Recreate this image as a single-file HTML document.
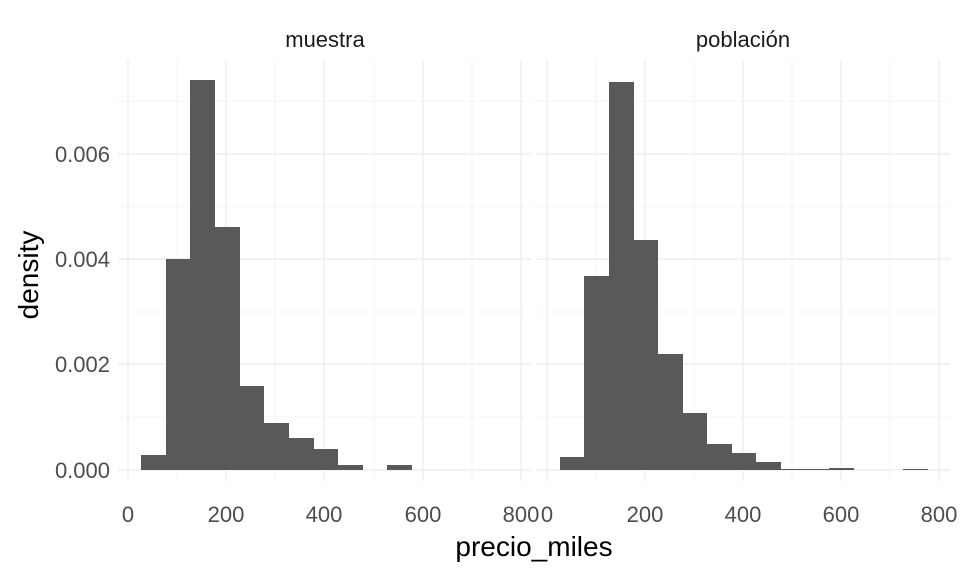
<!DOCTYPE html><html><head><style>body{margin:0;background:#fff}</style></head><body>
<svg width="960" height="576" xmlns="http://www.w3.org/2000/svg" font-family="Liberation Sans, sans-serif">
<g id="grid" stroke="#ebebeb">
<g stroke-width="0.6">
<line x1="118" x2="531" y1="417" y2="417"/><line x1="118" x2="531" y1="312" y2="312"/><line x1="118" x2="531" y1="206" y2="206"/><line x1="118" x2="531" y1="101" y2="101"/>
<line x1="177" x2="177" y1="60" y2="481"/><line x1="275" x2="275" y1="60" y2="481"/><line x1="374" x2="374" y1="60" y2="481"/><line x1="472" x2="472" y1="60" y2="481"/>
<line x1="537" x2="950" y1="417" y2="417"/><line x1="537" x2="950" y1="312" y2="312"/><line x1="537" x2="950" y1="206" y2="206"/><line x1="537" x2="950" y1="101" y2="101"/>
<line x1="596" x2="596" y1="60" y2="481"/><line x1="694" x2="694" y1="60" y2="481"/><line x1="792" x2="792" y1="60" y2="481"/><line x1="890" x2="890" y1="60" y2="481"/>
</g>
<g stroke-width="1.2">
<line x1="118" x2="531" y1="470" y2="470"/><line x1="118" x2="531" y1="364" y2="364"/><line x1="118" x2="531" y1="259" y2="259"/><line x1="118" x2="531" y1="154" y2="154"/>
<line x1="128" x2="128" y1="60" y2="481"/><line x1="226" x2="226" y1="60" y2="481"/><line x1="324" x2="324" y1="60" y2="481"/><line x1="423" x2="423" y1="60" y2="481"/><line x1="521" x2="521" y1="60" y2="481"/>
<line x1="537" x2="950" y1="470" y2="470"/><line x1="537" x2="950" y1="364" y2="364"/><line x1="537" x2="950" y1="259" y2="259"/><line x1="537" x2="950" y1="154" y2="154"/>
<line x1="547" x2="547" y1="60" y2="481"/><line x1="645" x2="645" y1="60" y2="481"/><line x1="743" x2="743" y1="60" y2="481"/><line x1="841" x2="841" y1="60" y2="481"/><line x1="939" x2="939" y1="60" y2="481"/>
</g></g>
<g fill="#595959">
<rect x="141" y="455" width="25" height="15"/><rect x="166" y="259" width="25" height="211"/><rect x="190" y="80" width="25" height="390"/><rect x="215" y="227" width="25" height="243"/><rect x="239" y="386" width="25" height="84"/><rect x="264" y="423" width="25" height="47"/><rect x="289" y="438" width="25" height="32"/><rect x="313" y="449" width="25" height="21"/><rect x="338" y="465" width="25" height="5"/><rect x="387" y="465" width="25" height="5"/>
<rect x="560" y="457" width="25" height="13"/><rect x="584" y="276" width="25" height="194"/><rect x="609" y="82" width="25" height="388"/><rect x="633" y="240" width="25" height="230"/><rect x="658" y="354" width="25" height="116"/><rect x="682" y="413" width="25" height="57"/><rect x="707" y="444" width="25" height="26"/><rect x="731" y="453" width="25" height="17"/><rect x="756" y="462" width="25" height="8"/><rect x="780" y="469" width="25" height="1"/><rect x="805" y="469" width="25" height="1"/><rect x="829" y="468" width="25" height="2"/><rect x="903" y="469" width="25" height="1"/>
</g>
<g font-size="22" fill="#1a1a1a" text-anchor="middle"><text x="325" y="47">muestra</text><text x="743" y="47">población</text></g>
<g font-size="22" fill="#4d4d4d" text-anchor="end"><text x="110" y="478">0.000</text><text x="110" y="372">0.002</text><text x="110" y="267">0.004</text><text x="110" y="162">0.006</text></g>
<g font-size="22" fill="#4d4d4d" text-anchor="middle"><text x="128" y="522">0</text><text x="226" y="522">200</text><text x="324" y="522">400</text><text x="423" y="522">600</text><text x="521" y="522">800</text>
<text x="547" y="522">0</text><text x="645" y="522">200</text><text x="743" y="522">400</text><text x="841" y="522">600</text><text x="939" y="522">800</text></g>
<text x="534" y="556" font-size="28" text-anchor="middle" fill="#000">precio_miles</text>
<text transform="translate(38,275) rotate(-90)" font-size="28" text-anchor="middle" fill="#000">density</text>
</svg></body></html>
